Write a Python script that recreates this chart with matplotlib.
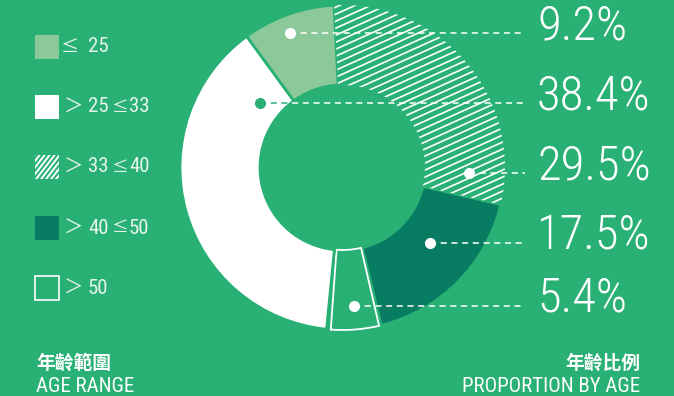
import numpy as np
import matplotlib
matplotlib.use("Agg")
import matplotlib.pyplot as plt
import matplotlib.font_manager as fm
from matplotlib.patches import Rectangle
from matplotlib.collections import LineCollection

# data
groups = ["≤ 25", "> 25 ≤ 33", "> 33 ≤ 40", "> 40 ≤ 50", "> 50"]
lows = [None, 25, 33, 40, 50]
highs = [25, 33, 40, 50, None]
shares = [9.2, 38.4, 29.5, 17.5, 5.4]
# pie order clockwise from top
pie_order = [2, 3, 4, 1, 0]
# label list on the right, top to bottom
label_order = [0, 1, 2, 3, 4]

bg = "#29b175"
light = "#8cc99a"
dark = "#087c62"
white = "white"
styles = ["light", "white", "hatch", "dark", "outline"]

W, H = 674, 396
def Y(y):
    return H - y

avail = {f.name for f in fm.fontManager.ttflist}
narrow = "DejaVu Sans"
for n in ["Liberation Sans Narrow", "Arial Narrow", "Roboto Condensed"]:
    if n in avail:
        narrow = n
        break
cjk = "Noto Sans CJK TC"

fig = plt.figure(figsize=(W / 100, H / 100), dpi=100)
fig.patch.set_facecolor(bg)
ax = fig.add_axes([0, 0, 1, 1])
ax.set_facecolor(bg)

cx, cy, R, r_in = 342.5, Y(167.5), 162.5, 82.5

def hatch(patch, slope, step, x0, x1, y0, y1, lw=1.3):
    segs = []
    for c in np.arange(y0 - slope * (x1 - x0), y1 + step, step):
        segs.append([(x0, c), (x1, c + slope * (x1 - x0))])
    lc = LineCollection(segs, colors=white, linewidths=lw)
    ax.add_collection(lc)
    lc.set_clip_path(patch)

vals = [shares[i] for i in pie_order]
wedges, _ = ax.pie(vals, radius=R, center=(cx, cy), startangle=93,
                   counterclock=False, frame=True,
                   wedgeprops=dict(width=R - r_in, edgecolor=bg, linewidth=2.0))

for w, i in zip(wedges, pie_order):
    s = styles[i]
    if s == "light":
        w.set_facecolor(light)
    elif s == "white":
        w.set_facecolor(white)
    elif s == "dark":
        w.set_facecolor(dark)
    elif s == "hatch":
        w.set_facecolor(bg)
        hatch(w, 0.45, 7, cx - R, cx + R, cy - R, cy + R, lw=1.2)
    elif s == "outline":
        w.set_facecolor(bg)
        w.set_edgecolor(white)
        w.set_linewidth(1.3)
        w.set_theta1(w.theta1 + 1.5)
        w.set_theta2(w.theta2 - 0.8)
white_wedge = wedges[pie_order.index(1)]

# labels with dots and dashed leaders
line_y = [33, 103, 173, 243, 306]
dot_x = [290, 260, 469, 430, 354]
for k, i in enumerate(label_order):
    yy = Y(line_y[k])
    ax.plot([dot_x[k], 525], [yy, yy], color=white, lw=1.1, ls=(0, (4, 3)))
    if styles[i] == "white":
        ln, = ax.plot([dot_x[k], 525], [yy, yy], color=bg, lw=1.1, ls=(0, (4, 3)))
        ln.set_clip_path(white_wedge)
        ax.plot(dot_x[k], yy, "o", ms=8, color=bg, mec="none")
    else:
        ax.plot(dot_x[k], yy, "o", ms=8, color=white, mec="none")
    ax.text(537, yy - 6, f"{shares[i]}%", fontsize=35, color=white, fontweight="light",
            family=[narrow, "DejaVu Sans"], va="baseline", ha="left")

# legend
leg_y = [47, 107, 167, 228, 288]
tc = "#e6f4ea"
fam = [narrow, cjk, "DejaVu Sans"]
sym = [cjk, "DejaVu Sans"]
for k in range(len(groups)):
    yc = Y(leg_y[k])
    s = styles[k]
    if s == "outline":
        p = Rectangle((35, yc - 12), 24, 24, facecolor="none", edgecolor=white, lw=1.2)
    elif s == "hatch":
        p = Rectangle((35, yc - 12), 24, 24, facecolor="none", edgecolor="none")
    else:
        p = Rectangle((35, yc - 12), 24, 24, facecolor={"light": light, "white": white, "dark": dark}[s],
                      edgecolor="none")
    ax.add_patch(p)
    if s == "hatch":
        hatch(p, 1.3, 6.5, 30, 65, yc - 20, yc + 20, lw=1.4)
    if lows[k] is None:
        ax.text(69, yc, "≤", fontsize=13, color=tc, family=sym, va="center", ha="center")
        ax.text(88, yc, str(highs[k]), fontsize=15, color=tc, family=fam, va="center")
    else:
        ax.text(64, yc, "＞", fontsize=14, color=tc, family=sym, va="center",
                fontweight="light")
        ax.text(88, yc, str(lows[k]), fontsize=15, color=tc, family=fam, va="center")
        if highs[k] is not None:
            ax.text(120, yc, "≤", fontsize=12, color=tc, family=sym, va="center", ha="center")
            ax.text(129, yc, str(highs[k]), fontsize=15, color=tc, family=fam, va="center")

# bottom titles
ax.text(36, Y(363), "年齡範圍", fontsize=13.5, color=white, family=[cjk], fontweight="bold",
        va="center", ha="left")
ax.text(36, Y(392), "AGE RANGE", fontsize=15, color=white, family=[narrow, "DejaVu Sans"],
        va="baseline", ha="left")
ax.text(640, Y(363), "年齡比例", fontsize=13.5, color=white, family=[cjk], fontweight="bold",
        va="center", ha="right")
ax.text(640, Y(392), "PROPORTION BY AGE", fontsize=15, color=white, family=[narrow, "DejaVu Sans"],
        va="baseline", ha="right")

ax.set_xlim(0, W)
ax.set_ylim(0, H)
ax.set_axis_off()
fig.savefig("out.png", dpi=100, facecolor=bg)
